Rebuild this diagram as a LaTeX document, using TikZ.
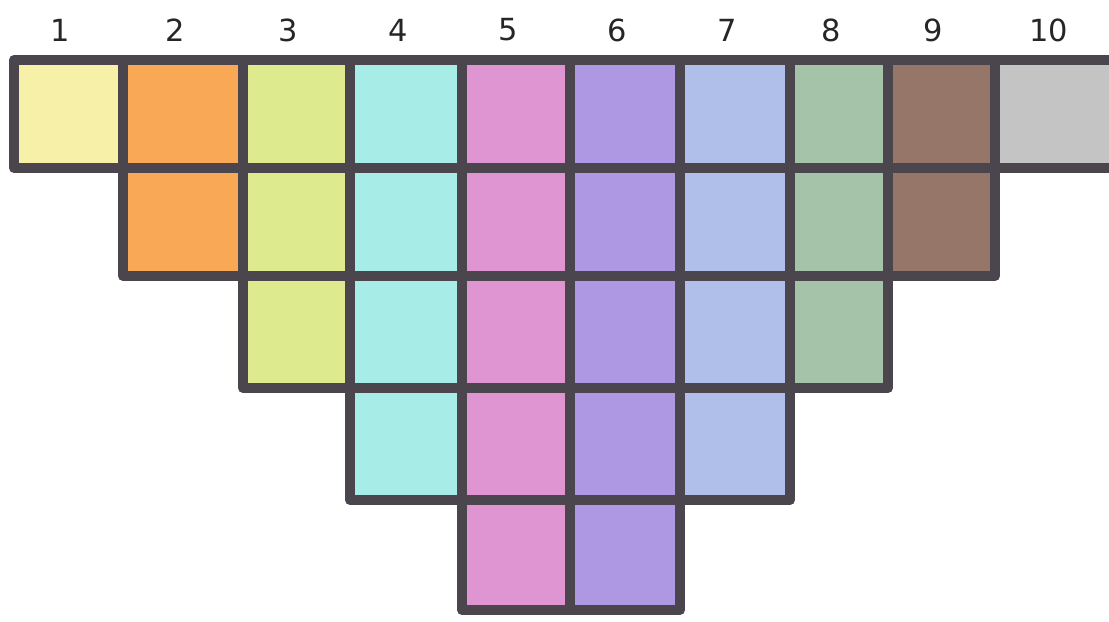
\documentclass[tikz,border=0pt]{standalone}
\usepackage{fontspec}
\setmainfont{DejaVu Sans}
\usepackage{tikz}
\definecolor{GRDline}{RGB}{75,70,77}
\definecolor{GRDa}{HTML}{F7F0A9}
\definecolor{GRDb}{HTML}{F9A955}
\definecolor{GRDc}{HTML}{DDEA8E}
\definecolor{GRDd}{HTML}{A7ECE6}
\definecolor{GRDe}{HTML}{E095D3}
\definecolor{GRDf}{HTML}{AE97E3}
\definecolor{GRDg}{HTML}{B0BEEA}
\definecolor{GRDh}{HTML}{A4C3A9}
\definecolor{GRDi}{HTML}{957668}
\definecolor{GRDj}{HTML}{C4C4C4}
\tikzset{
  cell/.style   = {draw=GRDline, line width=0.3cm, line join=round},
  collabel/.style = {font=\fontsize{26}{28}\selectfont, text=black!85, inner sep=0pt}
}
\begin{document}
\begin{tikzpicture}[x=0.03cm, y=-0.03cm]

  \clip (0,0) rectangle (1109,622);
  \fill[white] (0,0) rectangle (1109,622);

  % columns: number / left / right / height / colour
  \foreach \i/\xa/\xb/\h/\col in {1/14/123/1/GRDa, 2/123/243/2/GRDb, 3/243/350/3/GRDc,
      4/350/462/4/GRDd, 5/462/570/5/GRDe, 6/570/680/5/GRDf, 7/680/790/4/GRDg,
      8/790/888/3/GRDh, 9/888/995/2/GRDi, 10/995/1118/1/GRDj} {
    \foreach \j/\ya/\yb in {1/60/168, 2/168/276, 3/276/388, 4/388/500, 5/500/610} {
      \ifnum\j>\h\relax\else
        \draw[cell, fill=\col] (\xa,\ya) rectangle (\xb,\yb);
      \fi
    }
    \node[collabel] (n\i) at ({(\xa+\xb)/2-8},30) {\i};
  }

\end{tikzpicture}
\end{document}
